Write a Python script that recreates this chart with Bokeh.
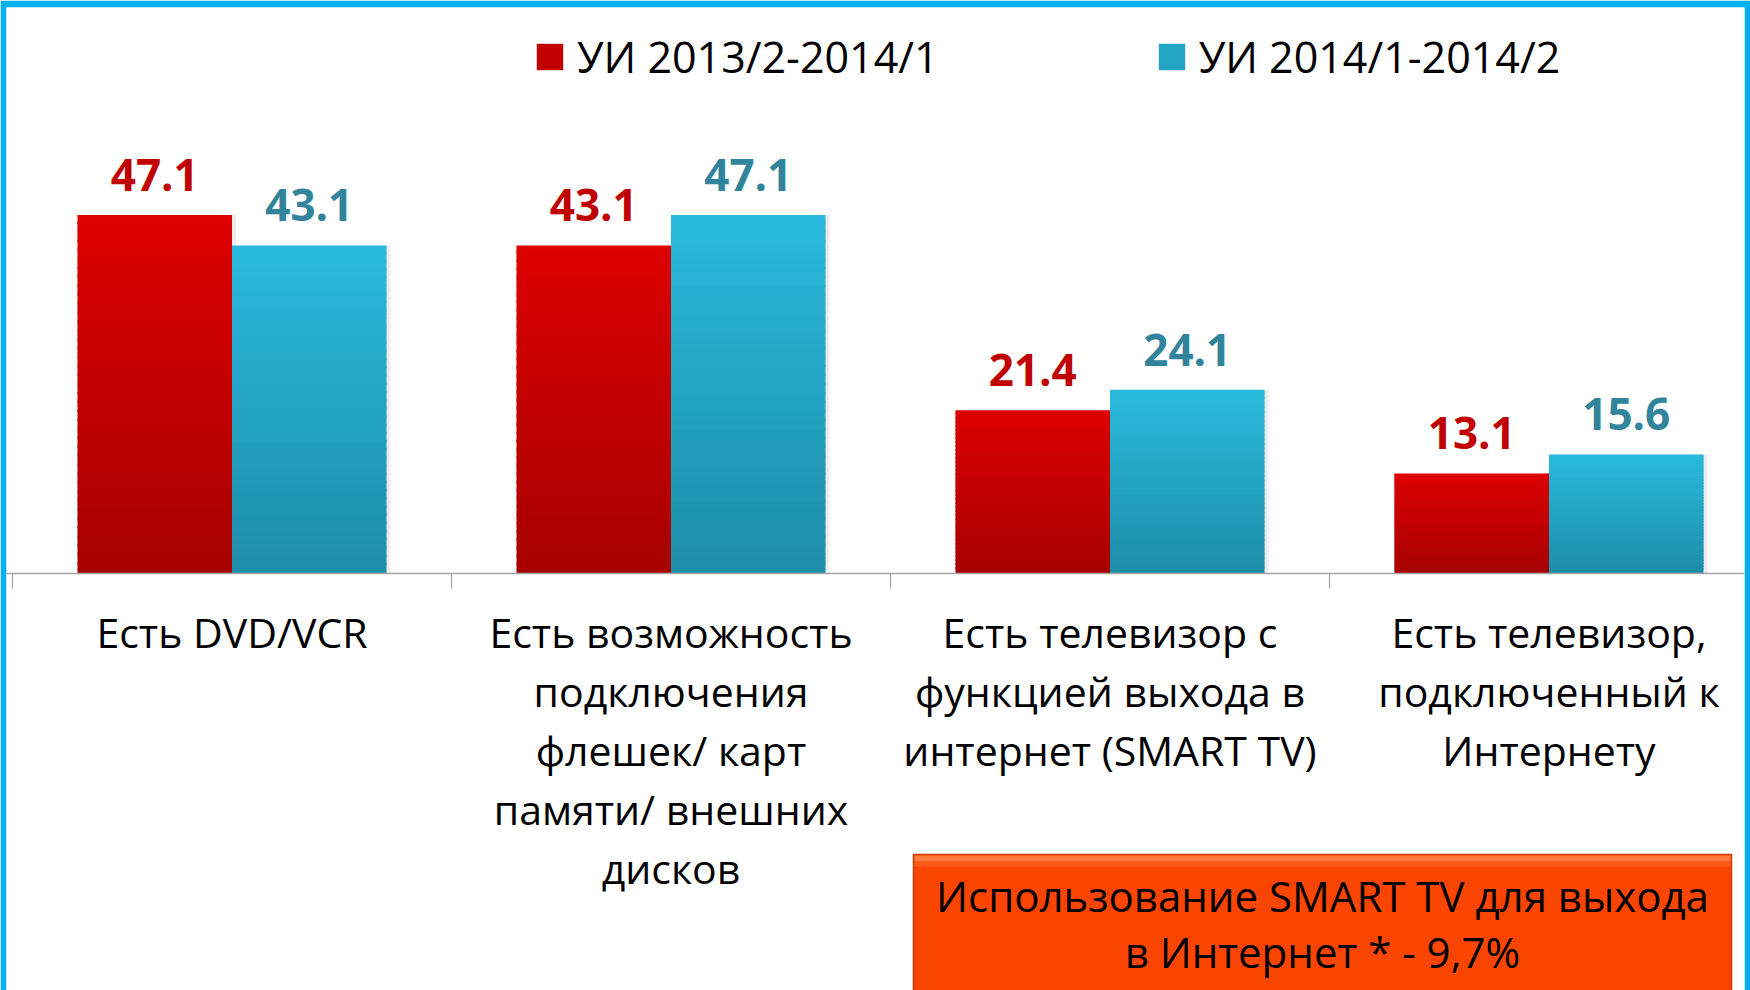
from bokeh.plotting import figure
from bokeh.models import Range1d, FixedTicker, Legend, LegendItem, ColumnDataSource
from bokeh.core.properties import value
from bokeh.embed import file_html
from bokeh.resources import INLINE

# ---- data ----
categories = [
    "Есть DVD/VCR",
    "Есть возможность\nподключения\nфлешек/ карт\nпамяти/ внешних\nдисков",
    "Есть телевизор с\nфункцией выхода в\nинтернет (SMART TV)",
    "Есть телевизор,\nподключенный к\nИнтернету",
]
series_names = ["УИ 2013/2-2014/1", "УИ 2014/1-2014/2"]
values_2013 = [47.1, 43.1, 21.4, 13.1]
values_2014 = [43.1, 47.1, 24.1, 15.6]
note_text = "Использование SMART TV для выхода\nв Интернет * - 9,7%"

# ---- styles ----
RED_TOP, RED_BOT = (221, 0, 0), (166, 0, 0)
BLUE_TOP, BLUE_BOT = (42, 186, 221), (29, 141, 168)
RED_LBL, BLUE_LBL = "#C00000", "#31849B"
FONT = "Open Sans"
LH_UNIT = 45.7 / 34.0   # bokeh line box per px of font size

W, H = 1750, 990
B_L, B_R, B_T = 6, 6, 7
CAT_PX = 439.0
X0_PX = 12.0
AX_PX = 572.5
PX_PER_UNIT = 7.6

x_range = Range1d((B_L - X0_PX) / CAT_PX, (W - B_R - X0_PX) / CAT_PX)
y_range = Range1d(-(H - AX_PX) / PX_PER_UNIT, (AX_PX - B_T) / PX_PER_UNIT)

def px_x(px):
    return (px - X0_PX) / CAT_PX

def px_y(py):
    return (AX_PX - py) / PX_PER_UNIT

p = figure(width=W, height=H, x_range=x_range, y_range=y_range,
           output_backend="svg", toolbar_location=None,
           min_border_left=B_L, min_border_right=B_R, min_border_top=B_T,
           min_border_bottom=0, border_fill_color="#00B0F0",
           background_fill_color="white", outline_line_color=None,
           y_axis_location=None)
p.grid.visible = False

# x axis at zero; category boundary marks as minor ticks (no tick labels)
ax = p.xaxis[0]
ax.fixed_location = 0
ax.ticker = FixedTicker(ticks=[], minor_ticks=list(range(len(categories) + 1)))
ax.axis_line_color = "#A6A6A6"
ax.axis_line_width = 1.5
ax.major_tick_line_color = None
ax.minor_tick_line_color = "#A6A6A6"
ax.minor_tick_line_width = 1.2
ax.minor_tick_out = 15
ax.minor_tick_in = 0

BAR_W = 0.352
OFFS = [-0.176, 0.176]
N_SLICES = 40
OVERLAP = 0.25

def lerp(c0, c1, t):
    return "#%02x%02x%02x" % tuple(int(round(a + (b - a) * t)) for a, b in zip(c0, c1))

def gradient_bars(vals, offset, top_c, bot_c):
    xs, bots, tops, cols = [], [], [], []
    for i, v in enumerate(vals):
        for k in range(N_SLICES):
            xs.append(i + 0.5 + offset)
            bots.append(v * k / N_SLICES)
            t = v * (k + 1) / N_SLICES
            tops.append(t if k == N_SLICES - 1 else t + OVERLAP)
            cols.append(lerp(bot_c, top_c, (k + 0.5) / N_SLICES))
    src = ColumnDataSource(dict(x=xs, bottom=bots, top=tops, color=cols))
    return p.vbar(x="x", bottom="bottom", top="top", width=BAR_W, source=src,
                  fill_color="color", line_color=None)

# soft shadow
for vals, off in ((values_2013, OFFS[0]), (values_2014, OFFS[1])):
    p.vbar(x=[i + 0.5 + off + 4 / CAT_PX for i in range(len(vals))], top=vals,
           width=BAR_W, bottom=0, fill_color="#000000", fill_alpha=0.07, line_color=None)

r_red = gradient_bars(values_2013, OFFS[0], RED_TOP, RED_BOT)
r_blue = gradient_bars(values_2014, OFFS[1], BLUE_TOP, BLUE_BOT)

# value labels
for vals, off, col in ((values_2013, OFFS[0], RED_LBL), (values_2014, OFFS[1], BLUE_LBL)):
    p.text(x=[i + 0.5 + off for i in range(len(vals))], y=vals,
           text=[f"{v:.1f}" for v in vals], text_align="center",
           text_baseline="alphabetic", y_offset=-40, text_color=col,
           text_font=value(FONT), text_font_style="bold", text_font_size="44px")

# category labels
p.text(x=[i + 0.5 for i in range(len(categories))], y=[px_y(603.5)] * len(categories),
       text=categories, text_align="center", text_baseline="top",
       text_color="black", text_font=value(FONT), text_font_size="41px",
       text_line_height=58 / (41 * LH_UNIT))

# note box
p.quad(left=[px_x(913)], right=[px_x(1731)], top=[px_y(854)], bottom=[px_y(1000)],
       fill_color="#F94500", line_color="#D23A00", line_width=1.5)
p.quad(left=[px_x(914)], right=[px_x(1730)], top=[px_y(855)], bottom=[px_y(861)],
       fill_color="#FF7A3C", line_color=None)
p.quad(left=[px_x(914)], right=[px_x(1730)], top=[px_y(861)], bottom=[px_y(866)],
       fill_color="#FC5A1A", line_color=None)
p.text(x=[px_x(1322)], y=[px_y(923)], text=[note_text], text_align="center",
       text_baseline="middle", text_color="black", text_font=value(FONT),
       text_font_size="42px", text_line_height=56 / (42 * LH_UNIT))

# legend
legend = Legend(items=[LegendItem(label=series_names[0], renderers=[r_red], index=N_SLICES // 2),
                       LegendItem(label=series_names[1], renderers=[r_blue], index=N_SLICES // 2)],
                orientation="horizontal", location=(527, 904),
                glyph_width=33, glyph_height=33, label_standoff=11, spacing=216,
                padding=0, margin=0, border_line_color=None,
                background_fill_alpha=0, label_text_font=FONT,
                label_text_font_size="43px", label_text_color="black")
p.add_layout(legend)

open("out.html", "w").write(file_html(p, INLINE))
